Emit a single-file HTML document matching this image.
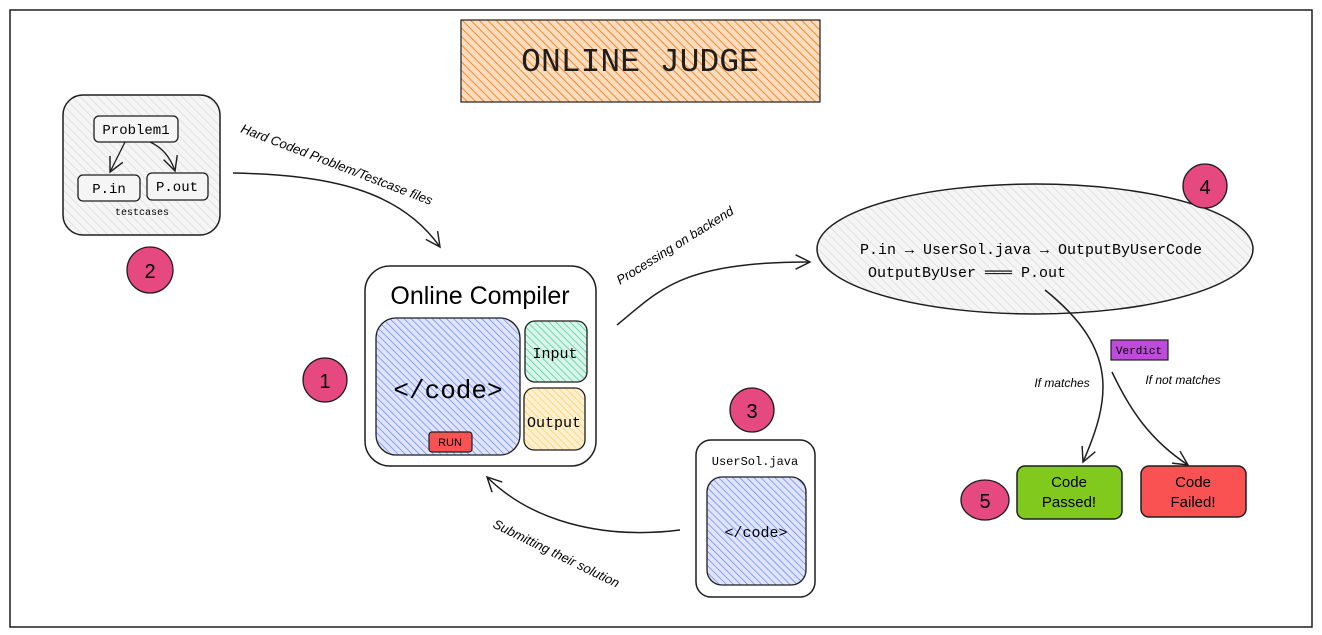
<!DOCTYPE html>
<html><head><meta charset="utf-8"><style>
html,body{margin:0;padding:0;background:#fff;}
svg{display:block;}
.m{font-family:"Liberation Mono",monospace;}
.s{font-family:"Liberation Sans",sans-serif;}
</style></head><body>
<svg width="1322" height="635" viewBox="0 0 1322 635" xmlns="http://www.w3.org/2000/svg">
<defs>
<pattern id="ho" width="6" height="6" patternUnits="userSpaceOnUse" patternTransform="rotate(-45)"><rect width="6" height="6" fill="#fddcbf"/><line x1="0" y1="0" x2="0" y2="6" stroke="#f08c2a" stroke-width="2"/></pattern>
<pattern id="hg" width="6" height="6" patternUnits="userSpaceOnUse" patternTransform="rotate(-45)"><rect width="6" height="6" fill="#f5f5f5"/><line x1="0" y1="0" x2="0" y2="6" stroke="#d6d6d6" stroke-width="1.2"/></pattern>
<pattern id="hb" width="5" height="5" patternUnits="userSpaceOnUse" patternTransform="rotate(-45)"><rect width="5" height="5" fill="#dfe4fb"/><line x1="0" y1="0" x2="0" y2="5" stroke="#5c7cfa" stroke-width="1.3"/></pattern>
<pattern id="hgr" width="5" height="5" patternUnits="userSpaceOnUse" patternTransform="rotate(-45)"><rect width="5" height="5" fill="#d9f5ea"/><line x1="0" y1="0" x2="0" y2="5" stroke="#38c99a" stroke-width="1.3"/></pattern>
<pattern id="hy" width="5" height="5" patternUnits="userSpaceOnUse" patternTransform="rotate(-45)"><rect width="5" height="5" fill="#fff1d0"/><line x1="0" y1="0" x2="0" y2="5" stroke="#fcc858" stroke-width="1.3"/></pattern>
<marker id="ar" viewBox="0 0 20 20" refX="18" refY="10" markerWidth="18" markerHeight="18" markerUnits="userSpaceOnUse" orient="auto"><path d="M2 2 L18 10 L2 18" fill="none" stroke="#1e1e1e" stroke-width="1.6"/></marker>
</defs>
<rect x="10" y="10" width="1302" height="617" fill="none" stroke="#1e1e1e" stroke-width="1.5"/>
<!-- title -->
<rect x="461" y="20" width="359" height="82" fill="url(#ho)" stroke="#1e1e1e" stroke-width="1.2"/>
<text x="640" y="71" text-anchor="middle" class="m" font-size="33" fill="#1e1e1e">ONLINE JUDGE</text>
<!-- box 2 -->
<rect x="63" y="95" width="157" height="140" rx="20" fill="url(#hg)" stroke="#1e1e1e" stroke-width="1.5"/>
<rect x="94" y="116" width="84" height="26" rx="5" fill="#f5f5f5" stroke="#1e1e1e" stroke-width="1.3"/>
<text x="136" y="134" text-anchor="middle" class="m" font-size="14">Problem1</text>
<rect x="78" y="175" width="62" height="26" rx="5" fill="#f5f5f5" stroke="#1e1e1e" stroke-width="1.3"/>
<text x="109" y="193" text-anchor="middle" class="m" font-size="14">P.in</text>
<rect x="147" y="173" width="61" height="27" rx="5" fill="#f5f5f5" stroke="#1e1e1e" stroke-width="1.3"/>
<text x="177" y="191" text-anchor="middle" class="m" font-size="14">P.out</text>
<path d="M125 142 L110 172" stroke="#1e1e1e" stroke-width="1.3" fill="none" marker-end="url(#ar)"/>
<path d="M150 142 Q168 150 175 171" stroke="#1e1e1e" stroke-width="1.3" fill="none" marker-end="url(#ar)"/>
<text x="142" y="215" text-anchor="middle" class="m" font-size="10">testcases</text>
<circle cx="150" cy="270" r="23" fill="#e64980" stroke="#1e1e1e" stroke-width="1.3"/>
<text x="150" y="278" text-anchor="middle" class="s" font-size="20">2</text>
<!-- arrow 2 -->
<path d="M233 173 C330 175 400 190 440 247" stroke="#1e1e1e" stroke-width="1.5" fill="none" marker-end="url(#ar)"/>
<text x="240" y="132" transform="rotate(21 240 132)" class="s" font-size="13" font-style="italic">Hard Coded Problem/Testcase files</text>
<!-- compiler -->
<rect x="365" y="266" width="231" height="200" rx="25" fill="#fff" stroke="#1e1e1e" stroke-width="1.5"/>
<text x="480" y="304" text-anchor="middle" class="s" font-size="25">Online Compiler</text>
<rect x="376" y="318" width="144" height="137" rx="20" fill="url(#hb)" stroke="#1e1e1e" stroke-width="1.3"/>
<text x="448" y="398" text-anchor="middle" class="m" font-size="26">&lt;/code&gt;</text>
<rect x="429" y="432" width="43" height="20" rx="3" fill="#fa5252" stroke="#1e1e1e" stroke-width="1.2"/>
<text x="450" y="446" text-anchor="middle" class="s" font-size="11">RUN</text>
<rect x="525" y="321" width="62" height="61" rx="10" fill="url(#hgr)" stroke="#1e1e1e" stroke-width="1.3"/>
<text x="555" y="358" text-anchor="middle" class="m" font-size="15">Input</text>
<rect x="524" y="388" width="61" height="62" rx="10" fill="url(#hy)" stroke="#1e1e1e" stroke-width="1.3"/>
<text x="554" y="427" text-anchor="middle" class="m" font-size="15">Output</text>
<circle cx="325" cy="380" r="22" fill="#e64980" stroke="#1e1e1e" stroke-width="1.3"/>
<text x="325" y="388" text-anchor="middle" class="s" font-size="20">1</text>
<!-- arrow processing -->
<path d="M617 325 C660 290 680 262 810 262" stroke="#1e1e1e" stroke-width="1.5" fill="none" marker-end="url(#ar)"/>
<text x="620" y="285" transform="rotate(-32 620 285)" class="s" font-size="13" font-style="italic">Processing on backend</text>
<!-- ellipse -->
<ellipse cx="1035" cy="249" rx="218" ry="65" fill="url(#hg)" stroke="#1e1e1e" stroke-width="1.5"/>
<text x="860" y="254" class="m" font-size="15">P.in → UserSol.java → OutputByUserCode</text>
<text x="868" y="277" class="m" font-size="15">OutputByUser ═══ P.out</text>
<circle cx="1205" cy="186" r="22" fill="#e64980" stroke="#1e1e1e" stroke-width="1.3"/>
<text x="1205" y="194" text-anchor="middle" class="s" font-size="20">4</text>
<!-- verdict arrows -->
<path d="M1045 290 C1120 350 1110 400 1083 462" stroke="#1e1e1e" stroke-width="1.5" fill="none" marker-end="url(#ar)"/>
<path d="M1112 372 C1130 410 1150 440 1188 465" stroke="#1e1e1e" stroke-width="1.5" fill="none" marker-end="url(#ar)"/>
<rect x="1111" y="340" width="57" height="20" fill="#be4bdb" stroke="#1e1e1e" stroke-width="1.2"/>
<text x="1139" y="354" text-anchor="middle" class="m" font-size="11">Verdict</text>
<text x="1062" y="387" text-anchor="middle" class="s" font-size="12" font-style="italic">If matches</text>
<text x="1183" y="384" text-anchor="middle" class="s" font-size="12" font-style="italic">If not matches</text>
<rect x="1017" y="466" width="105" height="53" rx="8" fill="#82c91e" stroke="#1e1e1e" stroke-width="1.5"/>
<text x="1069" y="487" text-anchor="middle" class="s" font-size="15">Code</text>
<text x="1069" y="507" text-anchor="middle" class="s" font-size="15">Passed!</text>
<rect x="1141" y="466" width="105" height="51" rx="8" fill="#fa5252" stroke="#1e1e1e" stroke-width="1.5"/>
<text x="1193" y="487" text-anchor="middle" class="s" font-size="15">Code</text>
<text x="1193" y="507" text-anchor="middle" class="s" font-size="15">Failed!</text>
<ellipse cx="985" cy="500" rx="24" ry="20" fill="#e64980" stroke="#1e1e1e" stroke-width="1.3"/>
<text x="985" y="508" text-anchor="middle" class="s" font-size="20">5</text>
<!-- usersol -->
<circle cx="752" cy="410" r="22" fill="#e64980" stroke="#1e1e1e" stroke-width="1.3"/>
<text x="752" y="418" text-anchor="middle" class="s" font-size="20">3</text>
<rect x="696" y="440" width="119" height="157" rx="15" fill="#fff" stroke="#1e1e1e" stroke-width="1.5"/>
<text x="755" y="465" text-anchor="middle" class="m" font-size="12">UserSol.java</text>
<rect x="707" y="477" width="99" height="108" rx="15" fill="url(#hb)" stroke="#1e1e1e" stroke-width="1.3"/>
<text x="756" y="537" text-anchor="middle" class="m" font-size="15">&lt;/code&gt;</text>
<path d="M680 530 C600 540 530 520 487 477" stroke="#1e1e1e" stroke-width="1.5" fill="none" marker-end="url(#ar)"/>
<text x="492" y="527" transform="rotate(26 492 527)" class="s" font-size="13" font-style="italic">Submitting their solution</text>
</svg>
</body></html>
